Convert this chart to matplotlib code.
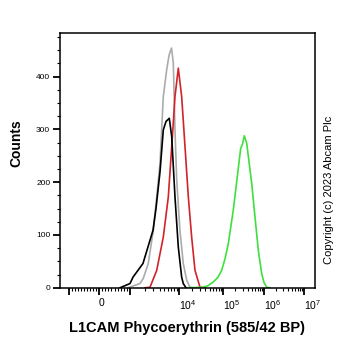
import numpy as np
import matplotlib
matplotlib.use("Agg")
import matplotlib.pyplot as plt

plt.rcParams["font.family"] = ["Liberation Sans", "DejaVu Sans"]
plt.rcParams["mathtext.fontset"] = "custom"
plt.rcParams["mathtext.rm"] = "Liberation Sans"

# histogram traces: fluorescence intensity vs counts
gray_x = [935, 1600, 1870, 2360, 2990, 3510, 4100, 4780, 5610, 6050, 6340,
          7030, 7650, 8280, 8980, 10500, 12500, 15000, 17800, 20800]
gray_y = [0, 8, 18, 46, 109, 172, 236, 362, 413, 432, 442,
          454, 426, 299, 204, 109, 46, 14, 1, 0]

black_x = [677, 1000, 1150, 1840, 2950, 3390, 4100, 4780, 5430, 6340, 7100,
           8280, 9680, 11500, 12500, 14400]
black_y = [0, 8, 20, 46, 109, 150, 220, 299, 315, 321, 286,
           172, 77, 20, 8, 0]

red_x = [2020, 2560, 3510, 4780, 6050, 7100, 8280, 9680, 11500, 13700,
         16300, 19400, 23100, 30000, 39000]
red_y = [0, 1, 33, 96, 172, 267, 362, 416, 362, 267,
         172, 96, 33, 1, 0]

green_x = [16000, 35700, 45600, 60200, 77000, 93400, 112000, 135000, 178000,
           223000, 270000, 299000, 331000, 378000, 501000, 603000, 726000,
           879000, 1000000, 1170000, 1410000]
green_y = [0, 1, 4, 11, 20, 33, 55, 84, 147,
           210, 264, 272, 288, 274, 198, 134, 71,
           27, 10, 1, 0]

xtick_vals = [-1e3, 0, 1e3, 1e4, 1e5, 1e6, 1e7]
xtick_labels = ["", "0", "", r"$\mathregular{10^{4}}$", r"$\mathregular{10^{5}}$",
                r"$\mathregular{10^{6}}$", r"$\mathregular{10^{7}}$"]
ytick_vals = [0, 100, 200, 300, 400]

# biexponential-like axis: linear within +-1e3, log decades outside
U_ANCH = [-4, -2, -1, 0, 1, 2, 3, 4, 5, 6, 8]
P_ANCH = [-78, 20, 69, 99, 130, 179, 223, 264, 304, 344, 424]


def to_u(x):
    x = np.asarray(x, dtype=float)
    a = np.abs(x)
    big = np.sign(x) * (1 + np.log10(np.maximum(a, 1e-9) / 1e3))
    return np.where(a <= 1e3, x / 1e3, big)


def forward(x):
    return np.interp(to_u(x), U_ANCH, P_ANCH)


def inverse(p):
    u = np.interp(p, P_ANCH, U_ANCH)
    a = np.abs(u)
    return np.where(a <= 1, u * 1e3, np.sign(u) * 1e3 * 10 ** (np.maximum(a, 1) - 1))


fig = plt.figure(figsize=(3.62, 3.51), dpi=100)
ax = fig.add_axes([60 / 362, 1 - 288.3 / 351, 255 / 362, 255 / 351])
ax.set_xscale("function", functions=(forward, inverse))

ax.plot(gray_x, gray_y, color="#ababab", lw=1.2)
ax.plot(red_x, red_y, color="#d2232a", lw=1.2)
ax.plot(black_x, black_y, color="#000000", lw=1.2)
ax.plot(green_x, green_y, color="#3ee03e", lw=1.2)

ax.set_xlim(inverse(60), inverse(315))
ax.set_ylim(-1, 482)

minors = []
for k in range(1, 10):
    minors += [-k * 100, k * 100]
for dec in [1e3, 1e4, 1e5, 1e6]:
    minors += [k * dec for k in range(2, 10)]
ax.set_xticks(xtick_vals)
ax.set_xticklabels(xtick_labels, fontsize=7.5, ha="left")
ax.set_xticks(minors, minor=True)

ax.set_yticks(ytick_vals)
ax.set_yticklabels([str(v) for v in ytick_vals], fontsize=6)
ax.set_yticks(np.arange(25, 482, 25), minor=True)

ax.tick_params(which="major", direction="out", length=5, width=1.3, pad=2)
ax.tick_params(which="minor", direction="out", length=2.5, width=0.8)
for s in ax.spines.values():
    s.set_linewidth(1.1)

fig.text(16 / 362, 1 - 143 / 351, "Counts", rotation=90, fontsize=10,
         fontweight="bold", ha="center", va="center")
fig.text(187 / 362, 1 - 328 / 351, "L1CAM Phycoerythrin (585/42 BP)",
         fontsize=10.5, fontweight="bold", ha="center", va="center")
fig.text(329 / 362, 1 - 190 / 351, "Copyright (c) 2023 Abcam Plc",
         rotation=90, fontsize=8, ha="center", va="center")

fig.savefig("out.png", dpi=100)
